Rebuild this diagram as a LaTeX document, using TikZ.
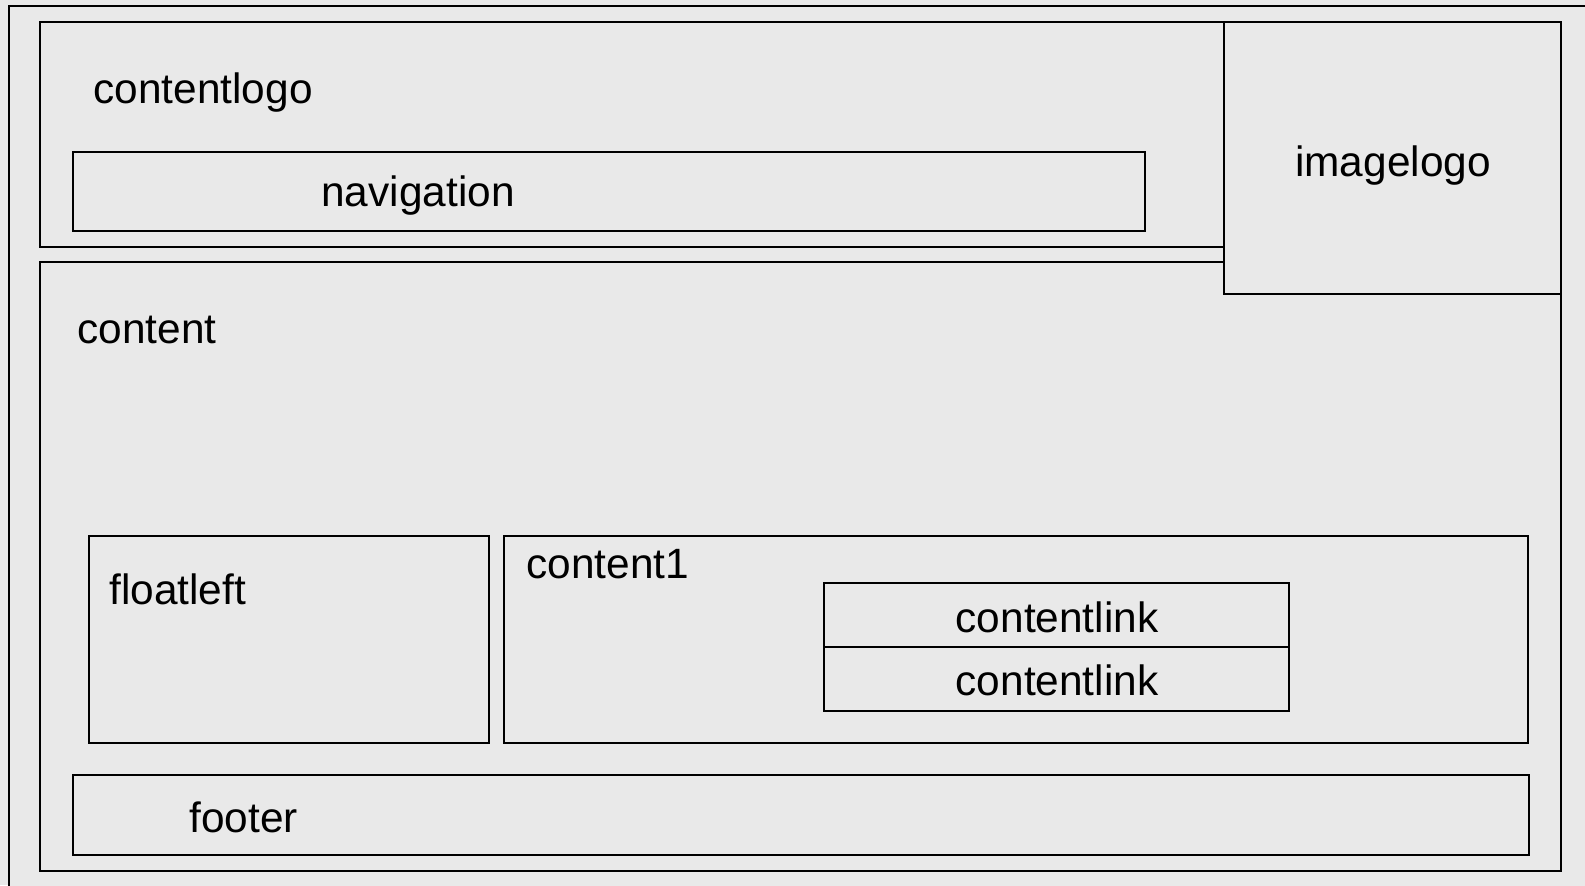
\documentclass[tikz,border=0pt]{standalone}
\usepackage{fontspec}
\setmainfont{Liberation Sans}
\definecolor{pagebg}{RGB}{233,233,233}
\tikzset{
  box/.style={draw=black, line width=1.35pt, fill=pagebg},
  lbl/.style={anchor=base west, inner sep=0pt, font=\fontsize{21.2}{25}\selectfont},
  clbl/.style={anchor=base, inner sep=0pt, font=\fontsize{21.2}{25}\selectfont}
}
\begin{document}
\begin{tikzpicture}[x=0.5pt, y=-0.5pt]
  \useasboundingbox (0,0) rectangle (1585,885);
  \clip (0,0) rectangle (1585,885);
  \fill[pagebg] (0,0) rectangle (1585,885);

  % outer frame, cut off at right and bottom
  \draw[box] (9,6) rectangle (1600,900);

  % header and content areas
  \draw[box] (40,22) rectangle (1224,247);
  \draw[box] (40,262) rectangle (1561,871);
  \draw[box] (1224,22) rectangle (1561,294);

  % inner boxes
  \draw[box] (73,152) rectangle (1145,231);
  \draw[box] (89,536) rectangle (489,743);
  \draw[box] (504,536) rectangle (1528,743);
  \draw[box] (824,583) rectangle (1289,647);
  \draw[box] (824,647) rectangle (1289,711);
  \draw[box] (73,775) rectangle (1529,855);

  \node[lbl] (contentlogo) at (93,103) {contentlogo};
  \node[clbl] (navigation) at (418,206) {navigation};
  \node[clbl] (imagelogo) at (1393,176) {imagelogo};
  \node[lbl] (content) at (77,343) {content};
  \node[lbl] (floatleft) at (109,604) {floatleft};
  \node[lbl] (contentone) at (526,578) {content1};
  \node[clbl] (linkone) at (1057,632) {contentlink};
  \node[clbl] (linktwo) at (1057,695) {contentlink};
  \node[lbl] (footer) at (189,832) {footer};
\end{tikzpicture}
\end{document}
